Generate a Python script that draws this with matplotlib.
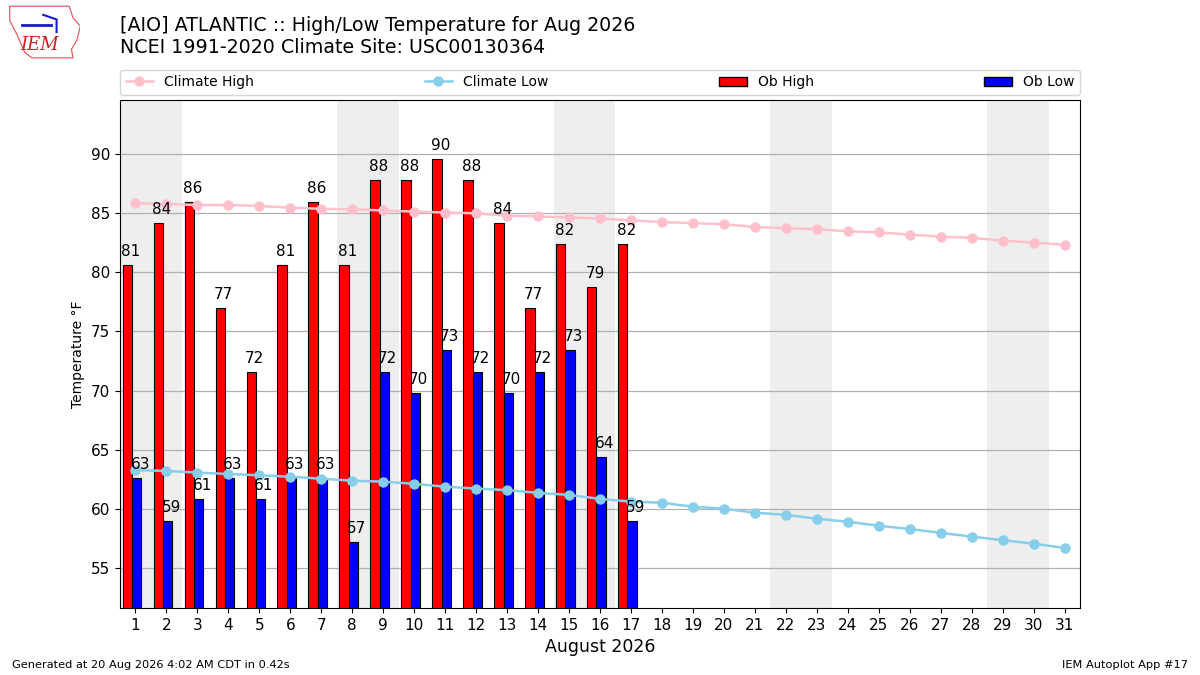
import matplotlib
matplotlib.use("Agg")
import matplotlib.pyplot as plt
from matplotlib.lines import Line2D
from matplotlib.patches import Patch, Polygon

days = list(range(1, 32))
ob_days = list(range(1, 18))

ob_high = [80.6, 84.2, 86.0, 77.0, 71.6, 80.6, 86.0, 80.6, 87.8, 87.8, 89.6,
           87.8, 84.2, 77.0, 82.4, 78.8, 82.4]
ob_low = [62.6, 59.0, 60.8, 62.6, 60.8, 62.6, 62.6, 57.2, 71.6, 69.8, 73.4,
          71.6, 69.8, 71.6, 73.4, 64.4, 59.0]

clim_high = [85.85, 85.8, 85.7, 85.7, 85.62, 85.48, 85.38, 85.34, 85.24, 85.15,
             85.07, 85.0, 84.8, 84.74, 84.65, 84.57, 84.4, 84.26, 84.17, 84.08,
             83.84, 83.74, 83.66, 83.48, 83.39, 83.2, 83.02, 82.93, 82.69,
             82.52, 82.34]
clim_low = [63.26, 63.2, 63.06, 62.94, 62.83, 62.71, 62.54, 62.37, 62.29, 62.11,
            61.86, 61.71, 61.57, 61.34, 61.17, 60.83, 60.6, 60.51, 60.17, 60.0,
            59.66, 59.49, 59.15, 58.9, 58.56, 58.28, 57.96, 57.64, 57.34, 57.04,
            56.68]

weekend_starts = [1, 8, 15, 22, 29]

fig = plt.figure(figsize=(12, 6.75), dpi=100)
ax = fig.add_axes([0.1, 0.0993, 0.8, 0.7527])

for d in weekend_starts:
    ax.axvspan(d - 0.5, d + 1.5, color="#eeeeee", zorder=0, lw=0)

ax.bar([d - 0.265 for d in ob_days], ob_high, width=0.3, color="red",
       edgecolor="black", lw=0.8, zorder=2)
ax.bar([d + 0.035 for d in ob_days], ob_low, width=0.3, color="blue",
       edgecolor="black", lw=0.8, zorder=2)

for d, v in zip(ob_days, ob_high):
    ax.text(d - 0.15, v + 0.5, "%.0f" % v, ha="center", va="bottom",
            fontsize=11, zorder=5)
for d, v in zip(ob_days, ob_low):
    ax.text(d + 0.15, v + 0.5, "%.0f" % v, ha="center", va="bottom",
            fontsize=11, zorder=5)

ax.plot(days, clim_high, color="pink", marker="o", ms=6.5, lw=1.8, zorder=3)
ax.plot(days, clim_low, color="skyblue", marker="o", ms=6.5, lw=1.8, zorder=3)

ax.set_xlim(0.5, 31.5)
ax.set_ylim(51.6, 94.6)
ax.set_xticks(days)
ax.set_yticks([55, 60, 65, 70, 75, 80, 85, 90])
ax.tick_params(labelsize=11)
ax.yaxis.grid(True, color="#b0b0b0", lw=0.9)
ax.set_axisbelow(True)
ax.set_ylabel("Temperature °F", fontsize=10)
ax.set_xlabel("August 2026", fontsize=12.5)

handles = [
    Line2D([0], [0], color="pink", marker="o", ms=6.5, lw=1.8, label="Climate High"),
    Line2D([0], [0], color="skyblue", marker="o", ms=6.5, lw=1.8, label="Climate Low"),
    Patch(facecolor="red", edgecolor="black", label="Ob High"),
    Patch(facecolor="blue", edgecolor="black", label="Ob Low"),
]
ax.legend(handles=handles, ncol=4, mode="expand", loc="lower left",
          bbox_to_anchor=(0, 1.01, 1, 0.05), fontsize=10, borderaxespad=0)

fig.text(0.1, 0.915, "[AIO] ATLANTIC :: High/Low Temperature for Aug 2026\n"
         "NCEI 1991-2020 Climate Site: USC00130364",
         fontsize=13.7, va="bottom", ha="left")
fig.text(0.01, 0.01, "Generated at 20 Aug 2026 4:02 AM CDT in 0.42s",
         fontsize=8.2)
fig.text(0.99, 0.01, "IEM Autoplot App #17", fontsize=8.2, ha="right")

# simple IEM logo
lax = fig.add_axes([0.005, 0.91, 0.062, 0.085])
lax.axis("off")
lax.set_xlim(0, 1)
lax.set_ylim(0, 1)
outline = [(0.05, 0.95), (0.85, 0.95), (0.9, 0.75), (1.0, 0.6), (0.95, 0.35),
           (0.88, 0.2), (0.9, 0.05), (0.35, 0.05), (0.25, 0.15), (0.15, 0.45),
           (0.05, 0.7)]
lax.add_patch(Polygon(outline, closed=True, fill=False, ec="#e05050", lw=0.8))
lax.plot([0.22, 0.6], [0.62, 0.62], color="#1a1acc", lw=2)
lax.plot([0.5, 0.68, 0.68], [0.8, 0.72, 0.5], color="#1a1acc", lw=1.5)
lax.text(0.45, 0.28, "IEM", color="#cc2020", fontsize=13, family="serif",
         style="italic", ha="center", va="center")

fig.savefig("out.png", dpi=100)
